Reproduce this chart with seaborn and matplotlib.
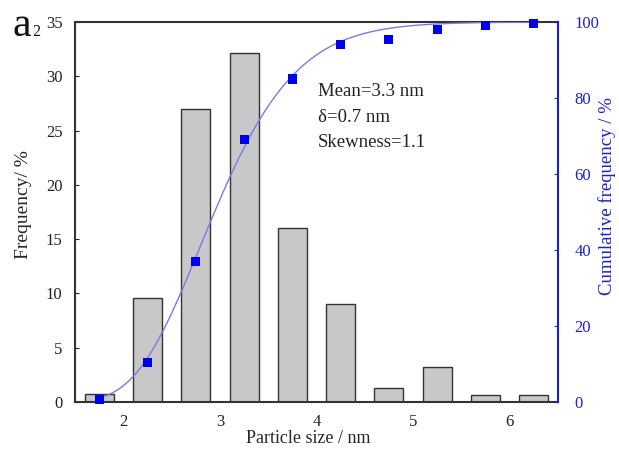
import math
import numpy as np
import pandas as pd
import matplotlib
matplotlib.use("Agg")
import matplotlib.pyplot as plt
import seaborn as sns

# ---- data ----
sizes = [1.75, 2.25, 2.75, 3.25, 3.75, 4.25, 4.75, 5.25, 5.75, 6.25]
frequency = [0.7, 9.6, 27.0, 32.1, 16.0, 9.0, 1.3, 3.2, 0.65, 0.65]
cumulative = [0.7, 10.3, 37.0, 69.0, 85.0, 94.0, 95.5, 98.0, 99.0, 99.5]
x_ticks = [2, 3, 4, 5, 6]
y_left_ticks = [0, 5, 10, 15, 20, 25, 30, 35]
y_right_ticks = [0, 20, 40, 60, 80, 100]
stats_text = ["Mean=3.3 nm", "δ=0.7 nm", "Skewness=1.1"]

sns.set_style("white")
plt.rcParams['font.family'] = ['Liberation Serif', 'DejaVu Serif']

blue = "#1f1fcc"
dark = "#333333"

fig = plt.figure(figsize=(6.19, 4.49), dpi=100)
ax = fig.add_axes([75/619, 47/449, 483/619, 380/449])

df = pd.DataFrame({"size": sizes, "freq": frequency, "cum": cumulative})
sns.barplot(data=df, x="size", y="freq", native_scale=True, width=0.6,
            color="#c8c8c8", edgecolor=dark, linewidth=1.0, saturation=1, ax=ax)

ax.set_xlim(1.5, 6.5)
ax.set_ylim(0, 35)
ax.set_xticks(x_ticks)
ax.set_xticklabels([str(t) for t in x_ticks])
ax.set_yticks(y_left_ticks)
ax.set_xlabel("Particle size / nm", fontsize=13, va="center")
ax.set_ylabel("Frequency/ %", fontsize=14)
ax.xaxis.set_label_coords(0.482, -0.097)
ax.yaxis.set_label_coords(-0.089, 0.52)
ax.tick_params(axis='both', labelsize=12, colors="#222222", direction='in', length=3, width=0.8)
ax.tick_params(axis='y', pad=9)
ax.tick_params(axis='x', pad=9)
for s in ["left", "bottom", "top"]:
    ax.spines[s].set_color(dark)
    ax.spines[s].set_linewidth(1.5)

ax2 = ax.twinx()
# lognormal CDF fitted to the cumulative points (least squares on a grid)
xs = np.array(sizes)
ys = np.array(cumulative)
erf = np.vectorize(math.erf)
best = None
for mu in np.linspace(0.9, 1.4, 101):
    for sg in np.linspace(0.08, 0.45, 75):
        f = 50 * (1 + erf((np.log(xs) - mu) / (sg * math.sqrt(2))))
        err = np.sum((f - ys) ** 2)
        if best is None or err < best[0]:
            best = (err, mu, sg)
_, mu, sg = best
xc = np.linspace(sizes[0], sizes[-1], 300)
yc = 50 * (1 + erf((np.log(xc) - mu) / (sg * math.sqrt(2))))
sns.lineplot(x=xc, y=yc, color="#7a7ae6", linewidth=1.0, ax=ax2)
sns.scatterplot(x=sizes, y=cumulative, marker="s", s=42, color="#0000ee",
                edgecolor="none", ax=ax2, zorder=5, clip_on=False)
ax2.set_ylim(0, 100)
ax2.set_yticks(y_right_ticks)
ax2.set_ylabel("")
ax2.tick_params(axis='y', labelsize=12, colors=blue, direction='in', length=3, width=0.8, pad=12)
for s in ["left", "bottom", "top"]:
    ax2.spines[s].set_visible(False)
ax2.spines["right"].set_color(blue)
ax2.spines["right"].set_linewidth(1.5)
ax.spines["right"].set_visible(False)

fig.text(607/619, 1 - 196/449, "Cumulative frequency / %", fontsize=13.5, color=blue,
         rotation=90, ha="center", va="center")

for i, t in enumerate(stats_text):
    ax.text(0.503, 0.816 - i * 0.066, t, transform=ax.transAxes, fontsize=13.5,
            color="#222222", va="center", ha="left")

fig.text(13/619, 1 - 36/449, "a", fontsize=30, color="#111111", va="baseline", ha="left")
fig.text(32/619, 1 - 36/449, "2", fontsize=11.5, color="#111111", va="baseline", ha="left")

fig.savefig("out.png", dpi=100)
